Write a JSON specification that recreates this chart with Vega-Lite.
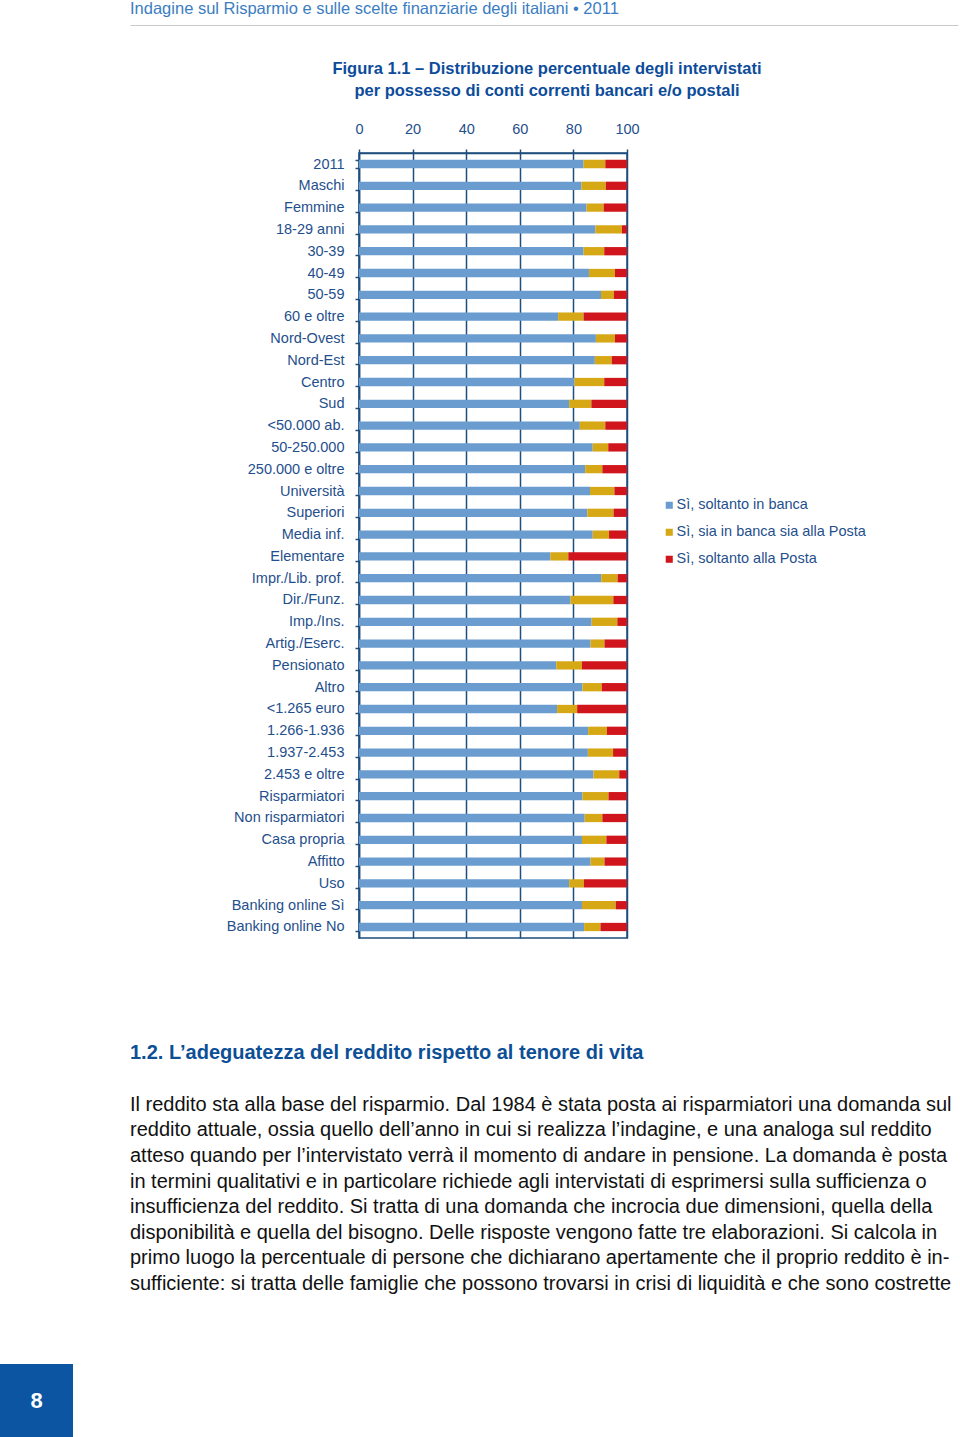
{
  "$schema": "https://vega.github.io/schema/vega-lite/v6.json",
  "padding": 0,
  "background": "white",
  "config": {
    "font": "Liberation Sans",
    "view": {"stroke": null},
    "concat": {"spacing": 0}
  },
  "datasets": {
    "conti": [
      {"c":"2011","s":"Sì, soltanto in banca","o":1,"v":83.8},{"c":"2011","s":"Sì, sia in banca sia alla Posta","o":2,"v":8.1},{"c":"2011","s":"Sì, soltanto alla Posta","o":3,"v":8.1},
      {"c":"Maschi","s":"Sì, soltanto in banca","o":1,"v":83.0},{"c":"Maschi","s":"Sì, sia in banca sia alla Posta","o":2,"v":9.1},{"c":"Maschi","s":"Sì, soltanto alla Posta","o":3,"v":7.9},
      {"c":"Femmine","s":"Sì, soltanto in banca","o":1,"v":84.9},{"c":"Femmine","s":"Sì, sia in banca sia alla Posta","o":2,"v":6.4},{"c":"Femmine","s":"Sì, soltanto alla Posta","o":3,"v":8.7},
      {"c":"18-29 anni","s":"Sì, soltanto in banca","o":1,"v":88.2},{"c":"18-29 anni","s":"Sì, sia in banca sia alla Posta","o":2,"v":9.9},{"c":"18-29 anni","s":"Sì, soltanto alla Posta","o":3,"v":1.9},
      {"c":"30-39","s":"Sì, soltanto in banca","o":1,"v":83.8},{"c":"30-39","s":"Sì, sia in banca sia alla Posta","o":2,"v":7.7},{"c":"30-39","s":"Sì, soltanto alla Posta","o":3,"v":8.5},
      {"c":"40-49","s":"Sì, soltanto in banca","o":1,"v":85.8},{"c":"40-49","s":"Sì, sia in banca sia alla Posta","o":2,"v":9.7},{"c":"40-49","s":"Sì, soltanto alla Posta","o":3,"v":4.5},
      {"c":"50-59","s":"Sì, soltanto in banca","o":1,"v":90.3},{"c":"50-59","s":"Sì, sia in banca sia alla Posta","o":2,"v":4.8},{"c":"50-59","s":"Sì, soltanto alla Posta","o":3,"v":4.9},
      {"c":"60 e oltre","s":"Sì, soltanto in banca","o":1,"v":74.3},{"c":"60 e oltre","s":"Sì, sia in banca sia alla Posta","o":2,"v":9.5},{"c":"60 e oltre","s":"Sì, soltanto alla Posta","o":3,"v":16.2},
      {"c":"Nord-Ovest","s":"Sì, soltanto in banca","o":1,"v":88.4},{"c":"Nord-Ovest","s":"Sì, sia in banca sia alla Posta","o":2,"v":7.1},{"c":"Nord-Ovest","s":"Sì, soltanto alla Posta","o":3,"v":4.5},
      {"c":"Nord-Est","s":"Sì, soltanto in banca","o":1,"v":88.0},{"c":"Nord-Est","s":"Sì, sia in banca sia alla Posta","o":2,"v":6.3},{"c":"Nord-Est","s":"Sì, soltanto alla Posta","o":3,"v":5.7},
      {"c":"Centro","s":"Sì, soltanto in banca","o":1,"v":80.4},{"c":"Centro","s":"Sì, sia in banca sia alla Posta","o":2,"v":11.1},{"c":"Centro","s":"Sì, soltanto alla Posta","o":3,"v":8.5},
      {"c":"Sud","s":"Sì, soltanto in banca","o":1,"v":78.4},{"c":"Sud","s":"Sì, sia in banca sia alla Posta","o":2,"v":8.3},{"c":"Sud","s":"Sì, soltanto alla Posta","o":3,"v":13.3},
      {"c":"<50.000 ab.","s":"Sì, soltanto in banca","o":1,"v":82.4},{"c":"<50.000 ab.","s":"Sì, sia in banca sia alla Posta","o":2,"v":9.5},{"c":"<50.000 ab.","s":"Sì, soltanto alla Posta","o":3,"v":8.1},
      {"c":"50-250.000","s":"Sì, soltanto in banca","o":1,"v":87.2},{"c":"50-250.000","s":"Sì, sia in banca sia alla Posta","o":2,"v":5.8},{"c":"50-250.000","s":"Sì, soltanto alla Posta","o":3,"v":7.0},
      {"c":"250.000 e oltre","s":"Sì, soltanto in banca","o":1,"v":84.4},{"c":"250.000 e oltre","s":"Sì, sia in banca sia alla Posta","o":2,"v":6.4},{"c":"250.000 e oltre","s":"Sì, soltanto alla Posta","o":3,"v":9.2},
      {"c":"Università","s":"Sì, soltanto in banca","o":1,"v":86.2},{"c":"Università","s":"Sì, sia in banca sia alla Posta","o":2,"v":9.1},{"c":"Università","s":"Sì, soltanto alla Posta","o":3,"v":4.7},
      {"c":"Superiori","s":"Sì, soltanto in banca","o":1,"v":85.2},{"c":"Superiori","s":"Sì, sia in banca sia alla Posta","o":2,"v":9.8},{"c":"Superiori","s":"Sì, soltanto alla Posta","o":3,"v":5.0},
      {"c":"Media inf.","s":"Sì, soltanto in banca","o":1,"v":87.2},{"c":"Media inf.","s":"Sì, sia in banca sia alla Posta","o":2,"v":6.1},{"c":"Media inf.","s":"Sì, soltanto alla Posta","o":3,"v":6.7},
      {"c":"Elementare","s":"Sì, soltanto in banca","o":1,"v":71.4},{"c":"Elementare","s":"Sì, sia in banca sia alla Posta","o":2,"v":6.7},{"c":"Elementare","s":"Sì, soltanto alla Posta","o":3,"v":21.9},
      {"c":"Impr./Lib. prof.","s":"Sì, soltanto in banca","o":1,"v":90.4},{"c":"Impr./Lib. prof.","s":"Sì, sia in banca sia alla Posta","o":2,"v":6.1},{"c":"Impr./Lib. prof.","s":"Sì, soltanto alla Posta","o":3,"v":3.5},
      {"c":"Dir./Funz.","s":"Sì, soltanto in banca","o":1,"v":78.9},{"c":"Dir./Funz.","s":"Sì, sia in banca sia alla Posta","o":2,"v":16.0},{"c":"Dir./Funz.","s":"Sì, soltanto alla Posta","o":3,"v":5.1},
      {"c":"Imp./Ins.","s":"Sì, soltanto in banca","o":1,"v":86.8},{"c":"Imp./Ins.","s":"Sì, sia in banca sia alla Posta","o":2,"v":9.6},{"c":"Imp./Ins.","s":"Sì, soltanto alla Posta","o":3,"v":3.6},
      {"c":"Artig./Eserc.","s":"Sì, soltanto in banca","o":1,"v":86.4},{"c":"Artig./Eserc.","s":"Sì, sia in banca sia alla Posta","o":2,"v":5.2},{"c":"Artig./Eserc.","s":"Sì, soltanto alla Posta","o":3,"v":8.4},
      {"c":"Pensionato","s":"Sì, soltanto in banca","o":1,"v":73.6},{"c":"Pensionato","s":"Sì, sia in banca sia alla Posta","o":2,"v":9.6},{"c":"Pensionato","s":"Sì, soltanto alla Posta","o":3,"v":16.8},
      {"c":"Altro","s":"Sì, soltanto in banca","o":1,"v":83.4},{"c":"Altro","s":"Sì, sia in banca sia alla Posta","o":2,"v":7.2},{"c":"Altro","s":"Sì, soltanto alla Posta","o":3,"v":9.4},
      {"c":"<1.265 euro","s":"Sì, soltanto in banca","o":1,"v":73.9},{"c":"<1.265 euro","s":"Sì, sia in banca sia alla Posta","o":2,"v":7.5},{"c":"<1.265 euro","s":"Sì, soltanto alla Posta","o":3,"v":18.6},
      {"c":"1.266-1.936","s":"Sì, soltanto in banca","o":1,"v":85.5},{"c":"1.266-1.936","s":"Sì, sia in banca sia alla Posta","o":2,"v":7.0},{"c":"1.266-1.936","s":"Sì, soltanto alla Posta","o":3,"v":7.5},
      {"c":"1.937-2.453","s":"Sì, soltanto in banca","o":1,"v":85.4},{"c":"1.937-2.453","s":"Sì, sia in banca sia alla Posta","o":2,"v":9.4},{"c":"1.937-2.453","s":"Sì, soltanto alla Posta","o":3,"v":5.2},
      {"c":"2.453 e oltre","s":"Sì, soltanto in banca","o":1,"v":87.5},{"c":"2.453 e oltre","s":"Sì, sia in banca sia alla Posta","o":2,"v":9.6},{"c":"2.453 e oltre","s":"Sì, soltanto alla Posta","o":3,"v":2.9},
      {"c":"Risparmiatori","s":"Sì, soltanto in banca","o":1,"v":83.4},{"c":"Risparmiatori","s":"Sì, sia in banca sia alla Posta","o":2,"v":9.7},{"c":"Risparmiatori","s":"Sì, soltanto alla Posta","o":3,"v":6.9},
      {"c":"Non risparmiatori","s":"Sì, soltanto in banca","o":1,"v":84.2},{"c":"Non risparmiatori","s":"Sì, sia in banca sia alla Posta","o":2,"v":6.6},{"c":"Non risparmiatori","s":"Sì, soltanto alla Posta","o":3,"v":9.2},
      {"c":"Casa propria","s":"Sì, soltanto in banca","o":1,"v":83.2},{"c":"Casa propria","s":"Sì, sia in banca sia alla Posta","o":2,"v":9.1},{"c":"Casa propria","s":"Sì, soltanto alla Posta","o":3,"v":7.7},
      {"c":"Affitto","s":"Sì, soltanto in banca","o":1,"v":86.4},{"c":"Affitto","s":"Sì, sia in banca sia alla Posta","o":2,"v":5.2},{"c":"Affitto","s":"Sì, soltanto alla Posta","o":3,"v":8.4},
      {"c":"Uso","s":"Sì, soltanto in banca","o":1,"v":78.4},{"c":"Uso","s":"Sì, sia in banca sia alla Posta","o":2,"v":5.5},{"c":"Uso","s":"Sì, soltanto alla Posta","o":3,"v":16.1},
      {"c":"Banking online Sì","s":"Sì, soltanto in banca","o":1,"v":83.2},{"c":"Banking online Sì","s":"Sì, sia in banca sia alla Posta","o":2,"v":12.6},{"c":"Banking online Sì","s":"Sì, soltanto alla Posta","o":3,"v":4.2},
      {"c":"Banking online No","s":"Sì, soltanto in banca","o":1,"v":84.0},{"c":"Banking online No","s":"Sì, sia in banca sia alla Posta","o":2,"v":6.1},{"c":"Banking online No","s":"Sì, soltanto alla Posta","o":3,"v":9.9}
    ],
    "pagina": [{"p": "8"}],
    "vuoto": []
  },
  "hconcat": [
    {
      "spacing": 0,
      "vconcat": [
        {"width": 73, "height": 1340, "data": {"name": "vuoto"}, "mark": "point", "view": {"stroke": null}},
        {
          "width": 73, "height": 73,
          "data": {"name": "pagina"},
          "mark": {"type": "text", "color": "white", "fontSize": 22, "fontWeight": "bold", "font": "Liberation Sans"},
          "encoding": {"text": {"field": "p"}},
          "view": {"fill": "#0b55a3", "stroke": null}
        }
      ]
    },
    {
      "spacing": 34,
      "vconcat": [
        {
          "width": 828, "height": 1,
          "data": {"name": "vuoto"},
          "mark": "point",
          "encoding": {
            "x": {"field": "x", "type": "quantitative", "scale": {"domain": [0, 1]},
                  "axis": {"orient": "bottom", "title": null, "labels": false, "ticks": false, "grid": false, "domainColor": "#c9c9c9", "domainWidth": 1}}
          },
          "title": {"text": "Indagine sul Risparmio e sulle scelte finanziarie degli italiani • 2011", "anchor": "start", "frame": "group",
                    "font": "Liberation Sans Narrow, Liberation Sans", "fontSize": 16.5, "fontWeight": "normal", "color": "#3c7dc2", "offset": 7},
          "view": {"stroke": null}
        },
        {
          "spacing": 103,
          "vconcat": [
            {
              "spacing": 0,
              "hconcat": [
                {"width": 95, "height": 1, "data": {"name": "vuoto"}, "mark": "point", "view": {"stroke": null}},
                {
                  "width": 268, "height": 785,
                  "data": {"name": "conti"},
                  "title": {"text": ["Figura 1.1 – Distribuzione percentuale degli intervistati", "per possesso di conti correnti bancari e/o postali"],
                            "anchor": "middle", "font": "Liberation Sans Narrow, Liberation Sans", "fontSize": 16.5, "fontWeight": "bold",
                            "color": "#0d4c9a", "lineHeight": 22, "offset": 22, "dx": 54},
                  "mark": {"type": "bar"},
                  "encoding": {
                    "y": {"field": "c", "type": "nominal", "sort": null,
                          "scale": {"paddingInner": 0.62, "paddingOuter": 0.315},
                          "axis": {"title": null, "labelFontSize": 14.5, "labelColor": "#1f4f8c", "labelPadding": 11,
                                   "tickBand": "extent", "tickSize": 4, "tickColor": "#1d4e7e", "tickWidth": 1.5,
                                   "domainColor": "#1d4e7e", "domainWidth": 1.5}},
                    "x": {"field": "v", "type": "quantitative", "stack": "zero",
                          "scale": {"domain": [0, 100], "nice": false},
                          "axis": {"orient": "top", "values": [0, 20, 40, 60, 80, 100], "title": null, "grid": true,
                                   "gridColor": "#1d4e7e", "gridWidth": 1.5, "gridOpacity": 1,
                                   "domainColor": "#1d4e7e", "domainWidth": 1.5, "tickColor": "#1d4e7e", "tickWidth": 1.5, "tickSize": 4,
                                   "labelPadding": 13, "labelFontSize": 14.5, "labelColor": "#1f4f8c", "labelFlush": false}},
                    "color": {"field": "s", "type": "nominal",
                              "scale": {"domain": ["Sì, soltanto in banca", "Sì, sia in banca sia alla Posta", "Sì, soltanto alla Posta"],
                                        "range": ["#6a9ccf", "#d6a816", "#d0161c"]},
                              "legend": {"title": null, "orient": "none", "legendX": 662, "legendY": 474, "symbolType": "square",
                                         "symbolSize": 50, "symbolStrokeWidth": 0, "labelFontSize": 14.5, "labelColor": "#1f4f8c",
                                         "labelLimit": 400, "rowPadding": 12, "padding": 0, "labelOffset": 0}},
                    "order": {"field": "o", "type": "quantitative"}
                  },
                  "view": {"stroke": "#1d4e7e", "strokeWidth": 1.5}
                }
              ]
            },
            {
              "width": 830, "height": 1,
              "data": {"name": "vuoto"},
              "mark": "point",
              "title": {
                "text": "1.2. L’adeguatezza del reddito rispetto al tenore di vita",
                "subtitle": [
                  "Il reddito sta alla base del risparmio. Dal 1984 è stata posta ai risparmiatori una domanda sul",
                  "reddito attuale, ossia quello dell’anno in cui si realizza l’indagine, e una analoga sul reddito",
                  "atteso quando per l’intervistato verrà il momento di andare in pensione. La domanda è posta",
                  "in termini qualitativi e in particolare richiede agli intervistati di esprimersi sulla sufficienza o",
                  "insufficienza del reddito. Si tratta di una domanda che incrocia due dimensioni, quella della",
                  "disponibilità e quella del bisogno. Delle risposte vengono fatte tre elaborazioni. Si calcola in",
                  "primo luogo la percentuale di persone che dichiarano apertamente che il proprio reddito è in-",
                  "sufficiente: si tratta delle famiglie che possono trovarsi in crisi di liquidità e che sono costrette"
                ],
                "anchor": "start", "frame": "group",
                "font": "Liberation Sans", "fontSize": 20, "fontWeight": "bold", "color": "#0d4f96",
                "subtitleFont": "Liberation Sans", "subtitleFontSize": 20, "subtitleColor": "#111111",
                "subtitleLineHeight": 25.6, "subtitlePadding": 32, "offset": 0
              },
              "view": {"stroke": null}
            }
          ]
        }
      ]
    }
  ],
  "spacing": 57
}
